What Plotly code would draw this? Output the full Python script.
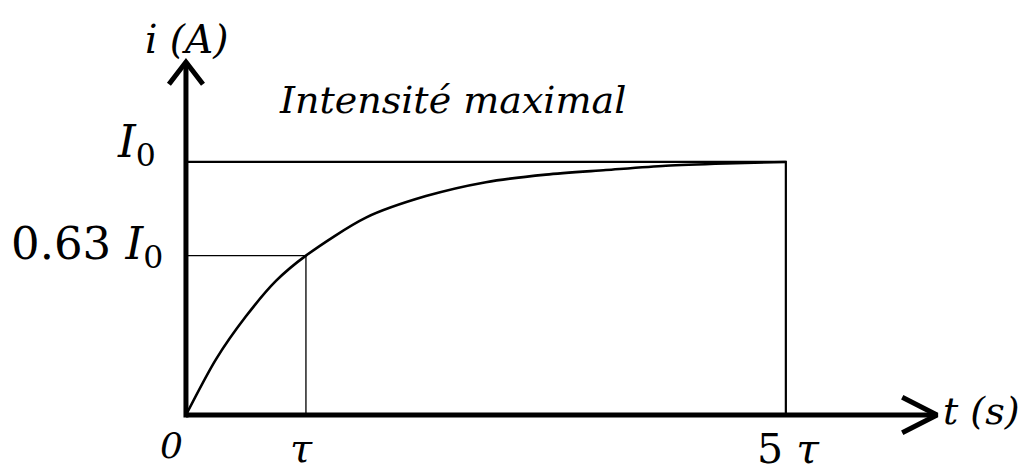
import plotly.graph_objects as go

# Charging current of an RL circuit, time in units of tau, current in units of I0
t_tau = [0, 0.25, 0.5, 0.75, 1, 1.5, 2, 2.5, 3, 3.5, 4, 4.5, 5]
i_rel = [0, 0.22, 0.39, 0.53, 0.63, 0.78, 0.865, 0.92, 0.95, 0.968, 0.985, 0.994, 1.0]

# Marked points on the axes
tau_mark = 1
t_end = 5
level_tau = 0.63
level_max = 1.0

x_labels = ["<i>0</i>", "<i>τ</i>", "5 <i>τ</i>"]
y_labels = ["<i>I</i><sub>0</sub>", "0.63 <i>I</i><sub>0</sub>"]

FONT = "DejaVu Serif"
INK = "#000000"

# Plot window (tau / I0 units) and axis arrow extents
X_RANGE = [-1.55, 6.96]
Y_RANGE = [-0.241, 1.640]
X_TIP = 6.26
Y_TIP = 1.395

fig = go.Figure()

# construction lines for tau and 5 tau
fig.add_trace(go.Scatter(x=[0, tau_mark, tau_mark], y=[level_tau, level_tau, 0],
                         mode="lines", line=dict(color=INK, width=1.3), hoverinfo="skip"))
fig.add_trace(go.Scatter(x=[0, t_end, t_end], y=[level_max, level_max, 0],
                         mode="lines", line=dict(color=INK, width=2.2), hoverinfo="skip"))

# response curve
fig.add_trace(go.Scatter(x=t_tau, y=i_rel, mode="lines", line_shape="spline",
                         line=dict(color=INK, width=2.6, smoothing=0.8), hoverinfo="skip"))

# axes with open arrowheads
ax_w = 5
fig.add_trace(go.Scatter(x=[0, X_TIP], y=[0, 0], mode="lines",
                         line=dict(color=INK, width=ax_w), hoverinfo="skip"))
fig.add_trace(go.Scatter(x=[0, 0], y=[-0.01, Y_TIP], mode="lines",
                         line=dict(color=INK, width=ax_w), hoverinfo="skip"))
fig.add_trace(go.Scatter(x=[X_TIP - 0.29, X_TIP, X_TIP - 0.29], y=[0.07, 0, -0.07],
                         mode="lines", line=dict(color=INK, width=ax_w), hoverinfo="skip"))
fig.add_trace(go.Scatter(x=[-0.142, 0, 0.142], y=[Y_TIP - 0.088, Y_TIP, Y_TIP - 0.088],
                         mode="lines", line=dict(color=INK, width=ax_w), hoverinfo="skip"))

ann = []
# x tick labels
for xv, txt, xs, fs in [(0, x_labels[0], -14, 36),
                        (tau_mark, x_labels[1], -4, 40),
                        (t_end, x_labels[2], 3, 41)]:
    ann.append(dict(x=xv, y=0, text=txt,
                    xanchor="center", yanchor="top", xshift=xs, yshift=-8,
                    showarrow=False, font=dict(family=FONT, size=fs, color=INK)))
# y tick labels
ann.append(dict(x=0, y=level_max, text=y_labels[0], xanchor="right", yanchor="middle",
                xshift=-28, yshift=18, showarrow=False,
                font=dict(family=FONT, size=45, color=INK)))
ann.append(dict(x=0, y=level_tau, text=y_labels[1], xanchor="right", yanchor="middle",
                xshift=-21, yshift=10, showarrow=False,
                font=dict(family=FONT, size=45, color=INK)))
# axis titles
ann.append(dict(x=0, y=Y_TIP, text="<i>i (A)</i>", xanchor="center", yanchor="bottom",
                xshift=1, yshift=-2, showarrow=False,
                font=dict(family=FONT, size=39, color=INK)))
ann.append(dict(x=X_TIP, y=0, text="<i>t (s)</i>", xanchor="left", yanchor="middle",
                xshift=4, yshift=4, showarrow=False,
                font=dict(family=FONT, size=38, color=INK)))
# plateau caption
ann.append(dict(x=level_max, y=level_max, text="<i>Intensité maximal</i>",
                xanchor="left", yanchor="bottom", xshift=-29, yshift=38,
                showarrow=False, font=dict(family=FONT, size=38, color=INK)))

fig.update_layout(
    width=1021, height=476,
    margin=dict(l=0, r=0, t=0, b=0),
    paper_bgcolor="white", plot_bgcolor="white",
    showlegend=False,
    xaxis=dict(range=X_RANGE, visible=False, fixedrange=True),
    yaxis=dict(range=Y_RANGE, visible=False, fixedrange=True),
    annotations=ann,
)

fig.write_html("out.html")
